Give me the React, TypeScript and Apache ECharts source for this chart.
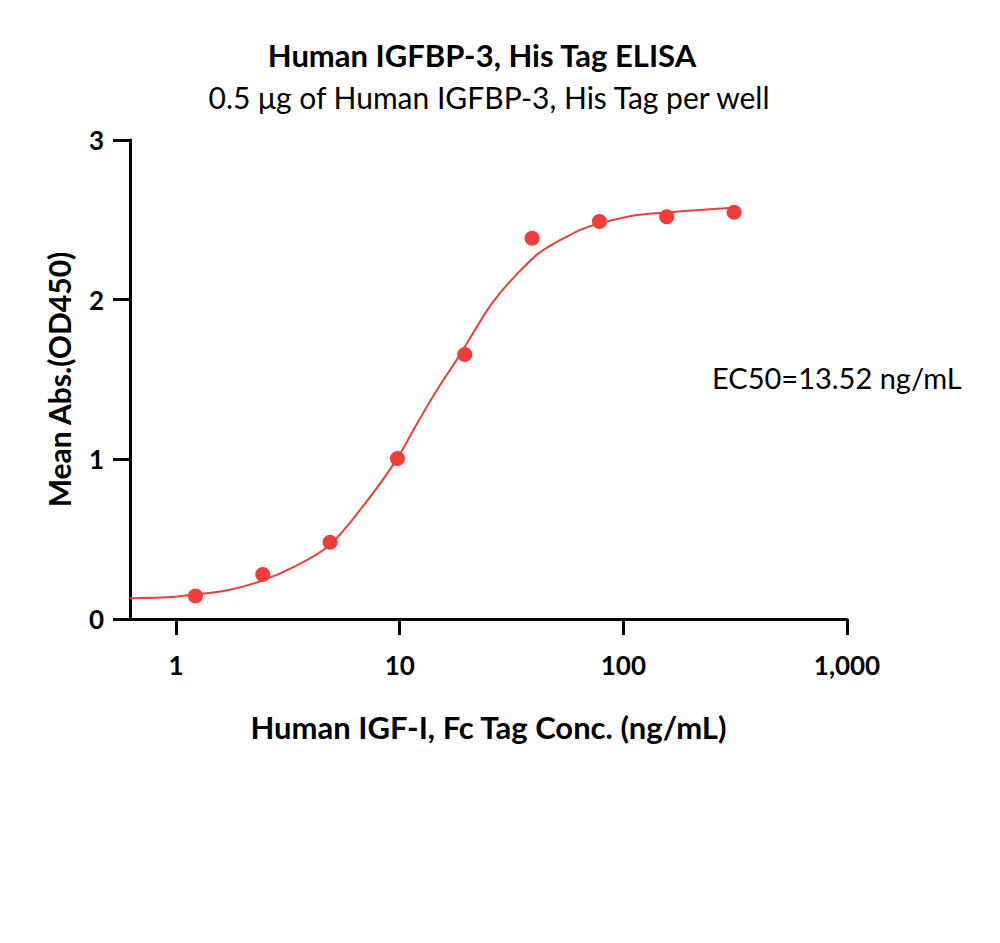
import React, { useEffect, useRef } from "react";
import * as echarts from "echarts";

// Measured points (x: ng/mL, y: mean OD450)
const concentrations = [1.22, 2.44, 4.88, 9.77, 19.53, 39.06, 78.13, 156.25, 312.5];
const meanAbs = [0.144, 0.278, 0.48, 1.005, 1.657, 2.384, 2.49, 2.52, 2.547];

// Fitted curve
const curveX = [0.62, 1.0, 1.23, 1.7, 2.42, 3.4, 4.83, 6.88, 9.7, 11.9, 14.6, 18.3, 24.5, 28, 34.5, 41.7, 48, 55, 65, 77.2, 110, 153.5, 220, 312.5];
const curveY = [0.13, 0.14, 0.155, 0.18, 0.24, 0.33, 0.46, 0.71, 1.0, 1.22, 1.43, 1.64, 1.93, 2.04, 2.18, 2.29, 2.345, 2.39, 2.44, 2.475, 2.525, 2.545, 2.562, 2.575];

const xTicks = [1, 10, 100, 1000];
const yTicks = [0, 1, 2, 3];

const titleText = "Human IGFBP-3, His Tag ELISA";
const subtitleText = "0.5 μg of Human IGFBP-3, His Tag per well";
const xName = "Human IGF-I, Fc Tag Conc. (ng/mL)";
const yName = "Mean Abs.(OD450)";
const ec50Text = "EC50=13.52 ng/mL";

const FONT = "Lato, 'Open Sans', sans-serif";

export default function App() {
  const ref = useRef<HTMLDivElement>(null);
  useEffect(() => {
    if (!ref.current) return;
    const chart = echarts.init(ref.current, undefined, { renderer: "svg" });
    const fmt = (v: number) => v.toLocaleString("en-US");
    chart.setOption({
      animation: false,
      backgroundColor: "#ffffff",
      textStyle: { fontFamily: FONT },
      grid: { left: 130, right: 153, top: 140, bottom: 324, containLabel: false },
      graphic: [
        {
          type: "text",
          x: 482,
          y: 55,
          style: { text: titleText, font: `bold 31px ${FONT}`, fill: "#000", textAlign: "center", textVerticalAlign: "middle" },
        },
        {
          type: "text",
          x: 489,
          y: 97,
          style: { text: subtitleText, font: `30px ${FONT}`, fill: "#000", textAlign: "center", textVerticalAlign: "middle" },
        },
        {
          type: "text",
          x: 712,
          y: 377,
          style: { text: ec50Text, font: `29px ${FONT}`, fill: "#000", textAlign: "left", textVerticalAlign: "middle" },
        },
      ],
      xAxis: {
        type: "log",
        logBase: 10,
        min: 0.622,
        max: 1000,
        name: xName,
        nameLocation: "middle",
        nameGap: 92,
        nameTextStyle: { fontFamily: FONT, fontWeight: "bold", fontSize: 31, color: "#000" },
        axisLine: { show: true, onZero: false, lineStyle: { color: "#000", width: 3 } },
        axisTick: { show: true, length: 16, lineStyle: { color: "#000", width: 3 }, customValues: xTicks },
        axisLabel: {
          customValues: xTicks,
          formatter: (v: number) => fmt(v),
          fontFamily: FONT,
          fontWeight: "bold",
          fontSize: 26,
          color: "#000",
          margin: 33,
        },
        splitLine: { show: false },
        minorTick: { show: false },
      },
      yAxis: {
        type: "value",
        min: 0,
        max: 3,
        interval: 1,
        name: yName,
        nameLocation: "middle",
        nameGap: 56,
        nameRotate: 90,
        nameTextStyle: { fontFamily: FONT, fontWeight: "bold", fontSize: 30, color: "#000" },
        axisLine: { show: true, lineStyle: { color: "#000", width: 3 } },
        axisTick: { show: true, length: 17, lineStyle: { color: "#000", width: 3 }, customValues: yTicks },
        axisLabel: { customValues: yTicks, fontFamily: FONT, fontWeight: "bold", fontSize: 26, color: "#000", margin: 26 },
        splitLine: { show: false },
      },
      series: [
        {
          type: "line",
          data: curveX.map((x, i) => [x, curveY[i]]),
          smooth: 0.35,
          showSymbol: false,
          symbol: "none",
          lineStyle: { color: "#e8403f", width: 2 },
          z: 2,
        },
        {
          type: "scatter",
          data: concentrations.map((x, i) => [x, meanAbs[i]]),
          symbol: "circle",
          symbolSize: 15,
          itemStyle: { color: "#f23c3c", opacity: 1 },
          z: 3,
        },
      ],
    });
    return () => chart.dispose();
  }, []);
  return <div ref={ref} style={{ position: "absolute", left: 0, top: 0, width: 1000, height: 943 }} />;
}
